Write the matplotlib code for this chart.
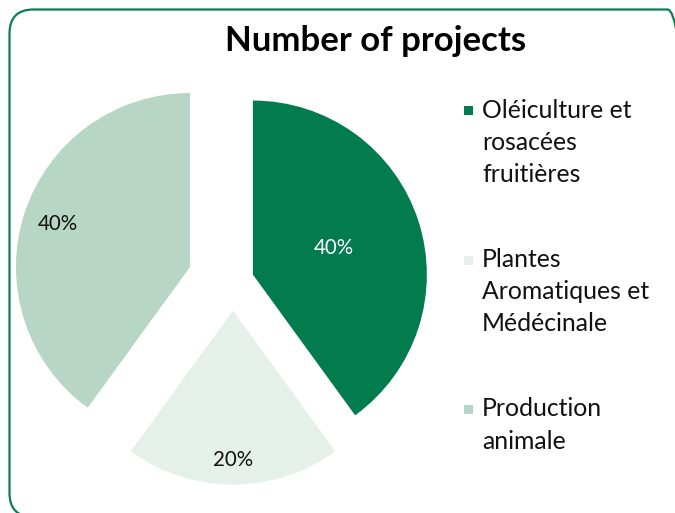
import numpy as np
import matplotlib
matplotlib.use("Agg")
import matplotlib.pyplot as plt
from matplotlib.patches import FancyBboxPatch, Rectangle

# ---- data ----
categories = ["Oléiculture et\nrosacées\nfruitières",
              "Plantes\nAromatiques et\nMédécinale",
              "Production\nanimale"]
values = [40, 20, 40]
title = "Number of projects"

# ---- style ----
colors = ["#027C4F", "#E6F0EB", "#B8D6C5"]
label_colors = ["white", "#111111", "#111111"]
explode_frac = [0.12, 0.17, 0.26]
label_dist = [0.49, 0.86, 0.80]
FONT = "Lato"

W, H = 675, 513
fig = plt.figure(figsize=(W / 100, H / 100), dpi=100)
fig.patch.set_facecolor("white")

ax = fig.add_axes([0, 0, 1, 1])
R = 174
cx, cy = 233, H - 281
wedges, _ = ax.pie(values, colors=colors, explode=[e * R for e in explode_frac],
                   startangle=90, counterclock=False, radius=R, center=(cx, cy),
                   wedgeprops=dict(linewidth=0))
total = sum(values)
for w, v, d, c in zip(wedges, values, label_dist, label_colors):
    th = np.deg2rad((w.theta1 + w.theta2) / 2)
    x = w.center[0] + d * w.r * np.cos(th)
    y = w.center[1] + d * w.r * np.sin(th)
    ax.text(x, y, f"{v / total * 100:.0f}%", ha="center", va="center",
            fontsize=14.8, color=c, family=FONT)

ax.set_xlim(0, W)
ax.set_ylim(0, H)
ax.set_aspect("equal")
ax.axis("off")

# rounded border: right side runs just past the image edge
border = FancyBboxPatch((9.5, -4), 682, H - 9.5 + 4,
                        boxstyle="round,pad=0,rounding_size=24",
                        fill=False, edgecolor="#0E7D4F", linewidth=1.6,
                        clip_on=False)
ax.add_patch(border)

ax.text(376, H - 41, title, ha="center", va="center",
        fontsize=25, fontweight="bold", family=FONT, color="black")

# legend
for i, (lab, col) in enumerate(zip(categories, colors)):
    yc = H - (110.5 + i * 149.5)
    ax.add_patch(Rectangle((464, yc - 4.5), 9, 9, facecolor=col, edgecolor="none"))
    ax.text(482, yc + 12, lab, ha="left", va="top", fontsize=17.8,
            family=FONT, color="#111111", linespacing=1.48)

fig.savefig("out.png", dpi=100, facecolor="white")
